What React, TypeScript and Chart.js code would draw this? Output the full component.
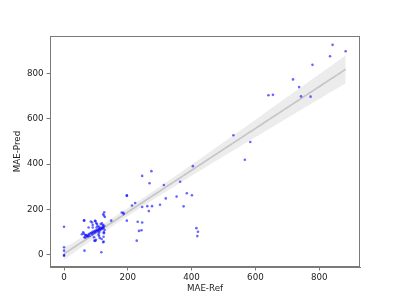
import React, { useEffect, useRef } from "react";
import { Chart, registerables } from "chart.js";

Chart.register(...registerables);

const refValues: number[] = [
  842, 834, 883, 779, 718, 737, 743, 773, 641, 655,
  531, 584, 567, 404, 274, 245, 268, 313, 364, 385,
  401, 353, 319, 375, 301, 276, 261, 245, 266, 213,
  223, 197, 197, 181, 186, 187, 197, 231, 245, 235,
  243, 228, 415, 420, 418, 148, 0, 0, 0, 0,
  0, 64, 117, 63,
  56, 60, 62, 66, 69, 72, 75, 78, 80, 83,
  86, 88, 90, 92, 95, 97, 99, 101, 104, 106,
  108, 110, 112, 114, 116, 118, 120, 122, 124, 126,
  127, 125,
  63, 77, 84, 88, 90, 97, 99, 101, 103, 105,
  110, 115, 119, 122, 123, 126, 128, 125, 102, 90,
  64, 67, 74, 94, 95, 98, 100, 110, 110, 112,
  118, 123, 124, 125, 124, 108,
];

const predValues: number[] = [
  925, 875, 897, 837, 773, 739, 698, 697, 703, 705,
  527, 497, 419, 391, 369, 348, 316, 308, 322, 272,
  263, 257, 249, 214, 221, 215, 215, 211, 193, 218,
  229, 263, 260, 187, 186, 180, 151, 146, 143, 106,
  109, 63, 118, 102, 83, 151, 124, 34, 19, 0,
  -3, 19, 12, 151,
  91, 100, 94, 88, 88, 83, 86, 92, 84, 95,
  98, 90, 102, 96, 104, 99, 108, 103, 110, 105,
  112, 115, 108, 118, 113, 120, 116, 124, 119, 128,
  110, 100,
  153, 121, 147, 143, 132, 150, 149, 141, 136, 128,
  124, 136, 139, 132, 179, 188, 167, 174, 121, 121,
  78, 77, 81, 78, 63, 62, 67, 99, 83, 75,
  70, 56, 80, 96, 59, 90,
];

const xTickValues = [0, 200, 400, 600, 800];
const yTickValues = [0, 200, 400, 600, 800];
const xTitle = "MAE-Ref";
const yTitle = "MAE-Pred";

function regression(xs: number[], ys: number[]) {
  const n = xs.length;
  const mx = xs.reduce((a, b) => a + b, 0) / n;
  const my = ys.reduce((a, b) => a + b, 0) / n;
  let sxx = 0, sxy = 0;
  for (let i = 0; i < n; i++) {
    sxx += (xs[i] - mx) ** 2;
    sxy += (xs[i] - mx) * (ys[i] - my);
  }
  const slope = sxy / sxx;
  const intercept = my - slope * mx;
  let sse = 0;
  for (let i = 0; i < n; i++) sse += (ys[i] - (intercept + slope * xs[i])) ** 2;
  const s = Math.sqrt(sse / (n - 2));
  return { slope, intercept, s, n, mx, sxx };
}

export default function App() {
  const canvasRef = useRef<HTMLCanvasElement | null>(null);

  useEffect(() => {
    if (!canvasRef.current) return;
    const reg = regression(refValues, predValues);
    const xmin = Math.min(...refValues);
    const xmax = Math.max(...refValues);
    const t = 2.7;
    const line: { x: number; y: number }[] = [];
    const upper: { x: number; y: number }[] = [];
    const lower: { x: number; y: number }[] = [];
    const steps = 100;
    for (let i = 0; i <= steps; i++) {
      const x = xmin + ((xmax - xmin) * i) / steps;
      const yhat = reg.intercept + reg.slope * x;
      const se = reg.s * Math.sqrt(1 / reg.n + (x - reg.mx) ** 2 / reg.sxx);
      line.push({ x, y: yhat });
      upper.push({ x, y: yhat + t * se });
      lower.push({ x, y: yhat - t * se });
    }
    const points = refValues.map((x, i) => ({ x, y: predValues[i] }));
    const font = { family: "'DejaVu Sans', sans-serif", size: 8.7 };
    const axisColor = "#7a7a7a";

    const boxPlugin = {
      id: "box",
      afterDraw(chart: any) {
        const { ctx, chartArea } = chart;
        ctx.save();
        ctx.strokeStyle = axisColor;
        ctx.lineWidth = 1;
        ctx.strokeRect(
          Math.round(chartArea.left) + 0.5,
          Math.round(chartArea.top) + 0.5,
          Math.round(chartArea.right - chartArea.left) - 1,
          Math.round(chartArea.bottom - chartArea.top) - 1
        );
        ctx.restore();
      },
    };

    const chart = new Chart(canvasRef.current, {
      type: "scatter",
      data: {
        datasets: [
          {
            label: "points",
            data: points,
            backgroundColor: "rgba(0,0,255,0.6)",
            borderWidth: 0,
            pointRadius: 1.3,
          },
          {
            label: "fit",
            data: line,
            showLine: true,
            borderColor: "#c6c6c6",
            borderWidth: 1.7,
            pointRadius: 0,
          },
          {
            label: "upper",
            data: upper,
            showLine: true,
            borderWidth: 0,
            borderColor: "rgba(0,0,0,0)",
            pointRadius: 0,
            backgroundColor: "rgba(200,200,200,0.35)",
            fill: "+1",
          },
          {
            label: "lower",
            data: lower,
            showLine: true,
            borderWidth: 0,
            borderColor: "rgba(0,0,0,0)",
            pointRadius: 0,
          },
        ],
      },
      options: {
        animation: false,
        responsive: false,
        layout: { padding: { top: 36, right: 40, left: 0, bottom: 0 } },
        plugins: { legend: { display: false }, tooltip: { enabled: false } },
        scales: {
          x: {
            type: "linear",
            min: -44,
            max: 928,
            afterFit: (s: any) => { s.height = 33; },
            afterBuildTicks: (s: any) => { s.ticks = xTickValues.map((v) => ({ value: v })); },
            grid: { drawOnChartArea: false, drawTicks: true, tickLength: 3.5, color: axisColor },
            border: { display: true, color: axisColor, width: 1 },
            ticks: { font, color: "#222", padding: 2, maxRotation: 0, autoSkip: false },
            title: { display: true, text: xTitle, font, color: "#222", padding: { top: 0, bottom: 5.8 } },
          },
          y: {
            type: "linear",
            min: -53,
            max: 964,
            afterFit: (s: any) => { s.width = 50; },
            afterBuildTicks: (s: any) => { s.ticks = yTickValues.map((v) => ({ value: v })); },
            grid: { drawOnChartArea: false, drawTicks: true, tickLength: 3.5, color: axisColor },
            border: { display: true, color: axisColor, width: 1 },
            ticks: { font, color: "#222", padding: 3, autoSkip: false },
            title: { display: true, text: yTitle, font, color: "#222", padding: { top: 12.8, bottom: 0 } },
          },
        },
      },
      plugins: [boxPlugin],
    });
    return () => chart.destroy();
  }, []);

  return (
    <div style={{ position: "fixed", left: 0, top: 0, width: 400, height: 300, background: "#fff" }}>
      <canvas ref={canvasRef} width={400} height={300} />
    </div>
  );
}
